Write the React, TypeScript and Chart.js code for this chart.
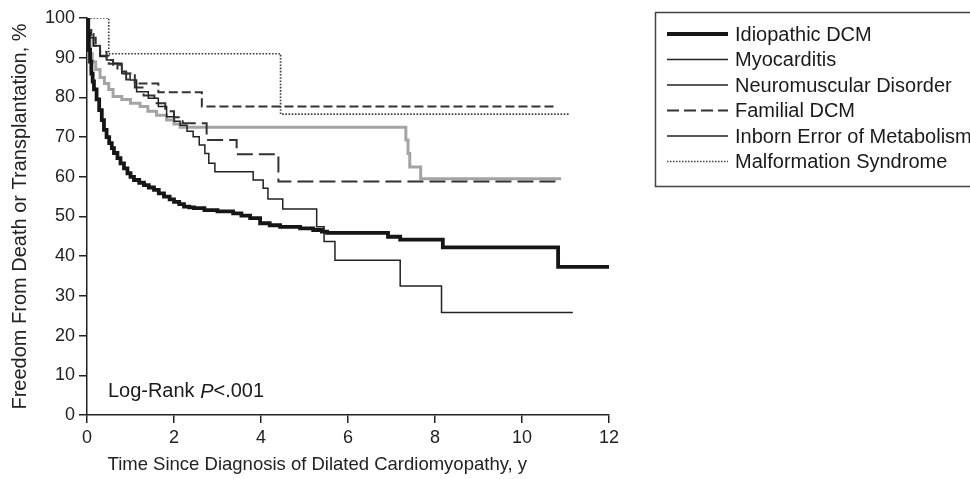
import React, { useEffect, useRef } from "react";
import { Chart, registerables } from "chart.js";

Chart.register(...registerables);

const FONT = "'Liberation Sans', Arial, Helvetica, sans-serif";

// Categories (legend order)
const categories = [
  "Idiopathic DCM",
  "Myocarditis",
  "Neuromuscular Disorder",
  "Familial DCM",
  "Inborn Error of Metabolism",
  "Malformation Syndrome",
];

// Axis ticks
const xTicks = [0, 2, 4, 6, 8, 10, 12];
const yTicks = [0, 10, 20, 30, 40, 50, 60, 70, 80, 90, 100];

// Kaplan-Meier step points: time (y) and freedom from death/transplant (%)
const idiopathicT = [0, 0.02, 0.04, 0.07, 0.1, 0.13, 0.16, 0.22, 0.28, 0.34, 0.39, 0.45, 0.51, 0.57, 0.62, 0.7, 0.77, 0.85, 0.93, 1.0, 1.08, 1.2, 1.31, 1.42, 1.54, 1.65, 1.77, 1.9, 2.0, 2.12, 2.23, 2.35, 2.46, 2.7, 3.0, 3.36, 3.55, 3.75, 3.98, 4.2, 4.44, 4.9, 5.2, 5.4, 5.52, 6.92, 7.2, 8.18, 10.83, 12.0];
const idiopathicV = [100, 96, 92, 89, 86, 84, 82, 79.5, 76.8, 74.3, 71.8, 70, 68.5, 67.2, 66, 64.7, 63.4, 62.1, 60.9, 60, 59.2, 58.5, 57.9, 57.3, 56.7, 55.8, 55, 54.3, 53.7, 53.1, 52.5, 52.3, 52.1, 51.6, 51.3, 50.8, 50.2, 49.6, 48.3, 47.8, 47.4, 47, 46.6, 46.2, 45.9, 44.9, 44.2, 42.2, 37.3, 37.3];

const myocarditisT = [0, 0.04, 0.1, 0.2, 0.3, 0.45, 0.6, 0.8, 1.1, 1.64, 2.64, 10.76];
const myocarditisV = [100, 97, 95, 93, 91.5, 89.4, 88.2, 86, 83.5, 81.3, 77.7, 77.7];

const neuromuscularT = [0, 0.03, 0.08, 0.15, 0.3, 0.45, 0.6, 0.8, 0.99, 1.14, 1.41, 1.64, 1.83, 2.0, 2.14, 2.3, 2.44, 2.58, 2.71, 2.8, 2.94, 3.82, 4.05, 4.16, 4.5, 5.28, 5.45, 5.7, 7.2, 8.15, 11.17];
const neuromuscularV = [100, 97, 95, 93, 90.3, 89.4, 88.6, 86, 84.4, 81.4, 79.8, 77.7, 75.1, 74, 73, 71.5, 70.1, 68, 65.9, 63.4, 61.3, 59.2, 57.1, 54.4, 51.9, 47.4, 43.7, 39, 32.5, 25.8, 25.8];

const familialT = [0, 0.05, 0.15, 0.3, 0.5, 0.7, 0.9, 1.1, 1.3, 1.55, 1.8, 2.0, 2.2, 2.75, 3.44, 4.4, 10.9];
const familialV = [100, 96, 93, 90.5, 88.5, 86.5, 84.5, 82.5, 80.5, 78.5, 76.5, 75, 73.5, 69.3, 65.7, 58.8, 58.8];

const inbornT = [0, 0.03, 0.07, 0.12, 0.2, 0.3, 0.4, 0.5, 0.6, 0.8, 1.0, 1.22, 1.4, 1.6, 1.83, 2.0, 2.14, 7.33, 7.38, 7.42, 7.67, 10.9];
const inbornV = [100, 95, 91, 89, 87, 85, 83.5, 82, 80.2, 79.5, 78.5, 77.7, 76.5, 75.5, 74.3, 73.3, 72.5, 69.3, 65.9, 62.5, 59.5, 59.5];

const malformationT = [0, 0.5, 4.45, 11.08];
const malformationV = [100, 91, 75.8, 75.8];

const seriesT = [idiopathicT, myocarditisT, neuromuscularT, familialT, inbornT, malformationT];
const seriesV = [idiopathicV, myocarditisV, neuromuscularV, familialV, inbornV, malformationV];

// Styles
const lineColors = ["#161616", "#333333", "#222222", "#333333", "#a4a4a4", "#3a3a3a"];
const lineWidths = [3.8, 2, 1.5, 2, 3, 1.7];
const lineDashes: number[][] = [[], [9, 4], [], [16, 6], [], [1.6, 1.6]];

const legendColors = ["#161616", "#222222", "#222222", "#333333", "#222222", "#444444"];
const legendWidths = [4, 1.5, 1.5, 1.8, 1.5, 1.3];
const legendDashes: number[][] = [[], [], [], [12, 5], [], [1.5, 1.5]];

const annotationText = ["Log-Rank ", "P", "<.001"];
const annotationAt = { x: 0.48, y: 5.8 };

const boxLegendPlugin = {
  id: "boxLegend",
  afterDraw(chart: any) {
    const ctx = chart.ctx;
    ctx.save();
    ctx.strokeStyle = "#444";
    ctx.lineWidth = 1.5;
    ctx.setLineDash([]);
    ctx.strokeRect(655.5, 12.5, 330, 174);
    ctx.font = `20px ${FONT}`;
    ctx.textBaseline = "middle";
    ctx.textAlign = "left";
    categories.forEach((label, i) => {
      const y = 34 + i * 25.5;
      ctx.beginPath();
      ctx.strokeStyle = legendColors[i];
      ctx.lineWidth = legendWidths[i];
      ctx.setLineDash(legendDashes[i]);
      ctx.moveTo(667, y);
      ctx.lineTo(728, y);
      ctx.stroke();
      ctx.setLineDash([]);
      ctx.fillStyle = "#1a1a1a";
      ctx.fillText(label, 735, y + 1);
    });
    ctx.restore();
  },
};

const annotationPlugin = {
  id: "logRank",
  afterDatasetsDraw(chart: any) {
    const ctx = chart.ctx;
    const xs = chart.scales.x;
    const ys = chart.scales.y;
    let x = xs.getPixelForValue(annotationAt.x);
    const y = ys.getPixelForValue(annotationAt.y);
    ctx.save();
    ctx.fillStyle = "#1a1a1a";
    ctx.textBaseline = "middle";
    ctx.textAlign = "left";
    annotationText.forEach((part, i) => {
      ctx.font = i === 1 ? `italic 20px ${FONT}` : `20px ${FONT}`;
      ctx.fillText(part, x, y);
      x += ctx.measureText(part).width;
    });
    ctx.restore();
  },
};

export default function App() {
  const ref = useRef<HTMLCanvasElement>(null);

  useEffect(() => {
    const datasets = categories.map((label, i) => ({
      label,
      data: seriesT[i].map((t, j) => ({ x: t, y: seriesV[i][j] })),
      borderColor: lineColors[i],
      backgroundColor: lineColors[i],
      borderWidth: lineWidths[i],
      borderDash: lineDashes[i],
      pointRadius: 0,
      pointHoverRadius: 0,
      stepped: true,
      fill: false,
      tension: 0,
      borderCapStyle: "butt" as const,
    }));

    const tickFont = { family: FONT, size: 18 };
    const chart = new Chart(ref.current!, {
      type: "line",
      data: { datasets },
      options: {
        animation: false,
        responsive: false,
        devicePixelRatio: 1,
        layout: { padding: { top: 18, right: 361, bottom: 0, left: 0 } },
        plugins: {
          legend: { display: false },
          tooltip: { enabled: false },
        },
        scales: {
          x: {
            type: "linear",
            min: 0,
            max: 12,
            afterBuildTicks: (s: any) => {
              s.ticks = xTicks.map((v) => ({ value: v }));
            },
            afterFit: (s: any) => {
              s.height = 64;
            },
            ticks: { font: tickFont, color: "#222", padding: 4, maxRotation: 0, autoSkip: false },
            grid: { drawOnChartArea: false, drawTicks: true, tickLength: 8, color: "#222", lineWidth: 1.5 },
            border: { color: "#222", width: 1.5 },
            title: {
              display: true,
              align: "start",
              text: "    Time Since Diagnosis of Dilated Cardiomyopathy, y",
              font: { family: FONT, size: 18.5 },
              color: "#222",
              padding: { top: 0, bottom: 3 },
            },
          },
          y: {
            type: "linear",
            min: 0,
            max: 100,
            afterBuildTicks: (s: any) => {
              s.ticks = yTicks.map((v) => ({ value: v }));
            },
            afterFit: (s: any) => {
              s.width = 87;
            },
            ticks: { font: tickFont, color: "#222", padding: 4, autoSkip: false },
            grid: { drawOnChartArea: false, drawTicks: true, tickLength: 8, color: "#222", lineWidth: 1.5 },
            border: { color: "#222", width: 1.5 },
            title: {
              display: true,
              text: "Freedom From Death or Transplantation, %",
              font: { family: FONT, size: 20 },
              color: "#222",
              padding: { top: 8, bottom: 0 },
            },
          },
        },
      },
      plugins: [annotationPlugin, boxLegendPlugin],
    });
    return () => chart.destroy();
  }, []);

  return (
    <div style={{ position: "absolute", left: 0, top: 0, width: 970, height: 479, background: "#fff", overflow: "hidden" }}>
      <canvas ref={ref} width={970} height={479} style={{ display: "block" }} />
    </div>
  );
}
